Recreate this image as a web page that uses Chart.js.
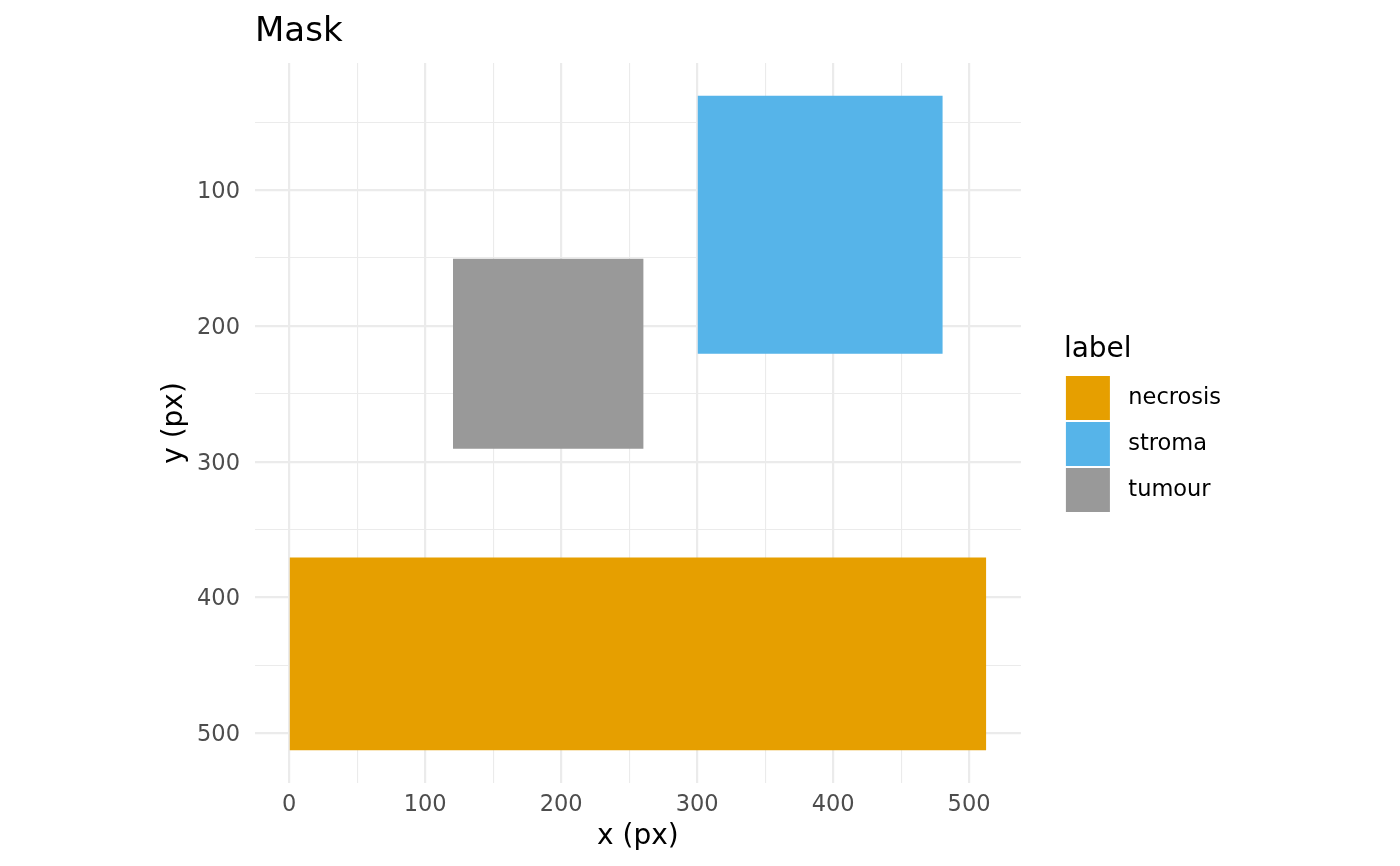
<!DOCTYPE html>
<html>

<head>
  <title>Mask</title>
  <script src="https://cdn.jsdelivr.net/npm/chart.js"></script>
  <style>
    body {
      margin: 0;
      background-color: #fff;
    }

    #chartContainer {
      width: 1400px;
      height: 866px;
    }
  </style>
</head>

<body>
  <div id="chartContainer">
    <canvas id="maskChart"></canvas>
  </div>

  <script>
    // regions of the mask, edges in pixel coordinates
    const labels = ['necrosis', 'stroma', 'tumour'];
    const xStart = [0.5, 300.5, 120.5];
    const xEnd = [512.5, 480.5, 260.5];
    const yStart = [370.5, 30.5, 150.5];
    const yEnd = [512.5, 220.5, 290.5];
    const colors = ['#E69F00', '#56B4E9', '#999999'];

    // axis breaks
    const xMajor = [0, 100, 200, 300, 400, 500];
    const xMinor = [50, 150, 250, 350, 450];
    const yMajor = [100, 200, 300, 400, 500];
    const yMinor = [50, 150, 250, 350, 450];

    const font = 'DejaVu Sans';
    const gridColor = '#EBEBEB';

    // 5% padding around the data, like ggplot
    const xLo = Math.min(...xStart), xHi = Math.max(...xEnd);
    const yLo = Math.min(...yStart), yHi = Math.max(...yEnd);
    const xPad = (xHi - xLo) * 0.05, yPad = (yHi - yLo) * 0.05;

    const datasets = labels.map((name, i) => ({
      label: name,
      data: [
        { x: xStart[i], y: yStart[i] },
        { x: xEnd[i], y: yStart[i] },
        { x: xEnd[i], y: yEnd[i] },
        { x: xStart[i], y: yEnd[i] },
        { x: xStart[i], y: yStart[i] }
      ],
      backgroundColor: colors[i],
      borderColor: 'rgba(0,0,0,0)',
      borderWidth: 0,
      pointRadius: 0,
      tension: 0,
      fill: 'shape'
    }));

    function breaks(major, minor) {
      return (scale) => {
        scale.ticks = major.concat(minor).sort((a, b) => a - b).map(v => ({ value: v }));
      };
    }

    const ctx = document.getElementById('maskChart').getContext('2d');
    new Chart(ctx, {
      type: 'line',
      data: { datasets: datasets },
      options: {
        responsive: true,
        maintainAspectRatio: false,
        animation: false,
        layout: {
          padding: { left: 0, right: 169, top: 0, bottom: 0 }
        },
        scales: {
          x: {
            type: 'linear',
            position: 'bottom',
            min: xLo - xPad,
            max: xHi + xPad,
            afterBuildTicks: breaks(xMajor, xMinor),
            afterFit: (scale) => { scale.height = 83; },
            border: { display: false },
            grid: {
              color: gridColor,
              lineWidth: (c) => xMajor.includes(c.tick.value) ? 2.2 : 1.1,
              drawTicks: false
            },
            ticks: {
              autoSkip: false,
              maxRotation: 0,
              padding: 9,
              color: '#4D4D4D',
              font: { family: font, size: 22.5 },
              callback: (v) => xMajor.includes(v) ? String(v) : ''
            },
            title: {
              display: true,
              text: 'x (px)',
              color: '#000',
              font: { family: font, size: 28 },
              padding: { top: 0, bottom: 12 }
            }
          },
          y: {
            type: 'linear',
            position: 'left',
            reverse: true,
            min: yLo - yPad,
            max: yHi + yPad,
            afterBuildTicks: breaks(yMajor, yMinor),
            afterFit: (scale) => { scale.width = 255; },
            border: { display: false },
            grid: {
              color: gridColor,
              lineWidth: (c) => yMajor.includes(c.tick.value) ? 2.2 : 1.1,
              drawTicks: false
            },
            ticks: {
              autoSkip: false,
              padding: 15,
              labelOffset: 2,
              color: '#4D4D4D',
              font: { family: font, size: 22.5 },
              callback: (v) => yMajor.includes(v) ? String(v) : ''
            },
            title: {
              display: true,
              text: 'y (px)',
              color: '#000',
              font: { family: font, size: 28 },
              padding: { top: 158, bottom: 0 }
            }
          },
          // empty space between the panel and the legend
          gap: {
            type: 'linear',
            axis: 'y',
            position: 'right',
            display: true,
            afterFit: (scale) => { scale.width = 43; },
            border: { display: false },
            grid: { display: false, drawTicks: false },
            ticks: { display: false }
          }
        },
        plugins: {
          title: {
            display: true,
            text: 'Mask',
            align: 'start',
            fullSize: false,
            color: '#000',
            font: { family: font, size: 34, weight: 'normal' },
            padding: { top: 11.6, bottom: 10.6 }
          },
          legend: {
            position: 'right',
            align: 'center',
            fullSize: false,
            title: {
              display: true,
              text: 'label',
              position: 'start',
              color: '#000',
              font: { family: font, size: 28 },
              padding: 4.2
            },
            labels: {
              boxWidth: 44,
              boxHeight: 44,
              padding: 2,
              color: '#000',
              font: { family: font, size: 22.5 },
              generateLabels: (chart) => Chart.defaults.plugins.legend.labels.generateLabels(chart)
                .map(item => Object.assign(item, { text: ' ' + item.text }))
            }
          },
          tooltip: { enabled: false }
        }
      }
    });
  </script>
</body>

</html>
